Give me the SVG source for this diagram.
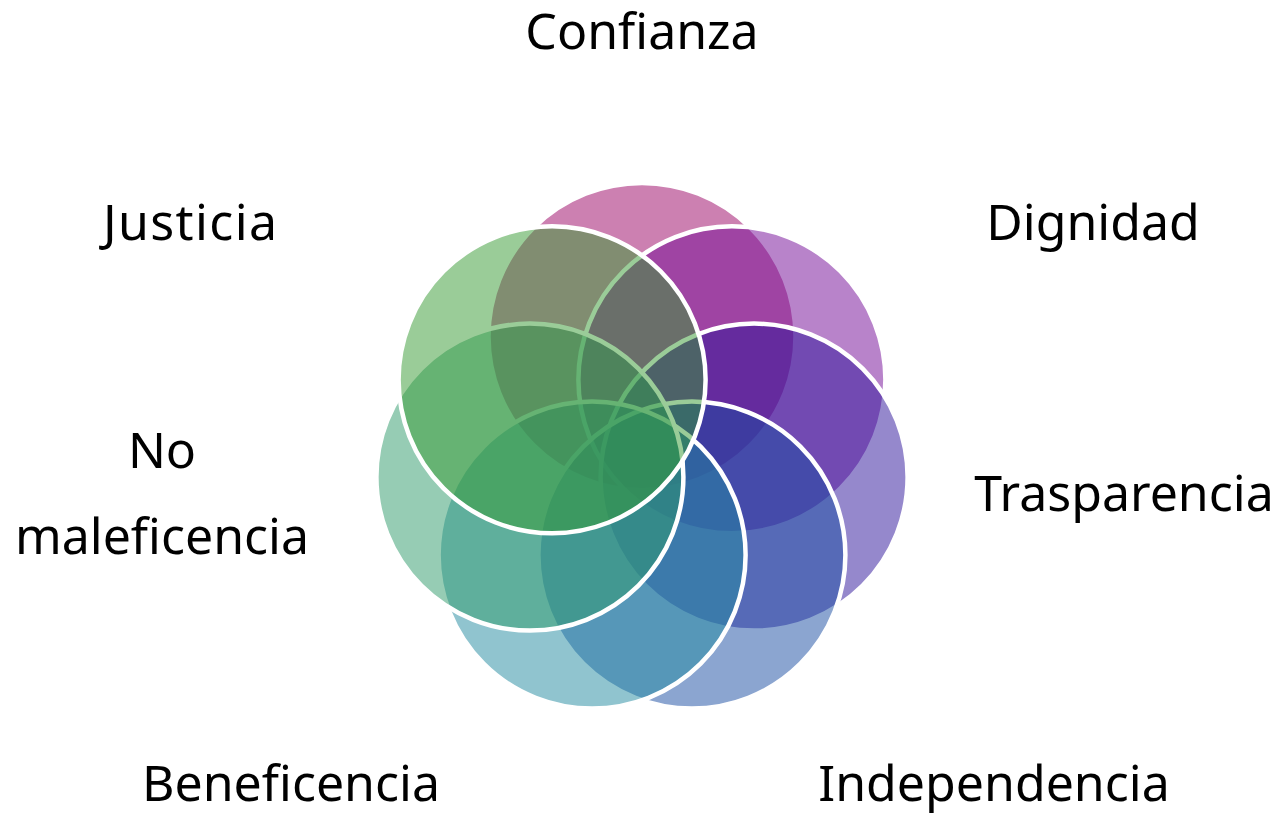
<svg xmlns="http://www.w3.org/2000/svg" width="1283" height="815" viewBox="0 0 1283 815">
<style>
.c{fill-opacity:0.5;stroke:#ffffff;stroke-width:4.5}
.t{font-family:"Noto Sans","Liberation Sans",sans-serif;font-size:50px;fill:#000000;text-anchor:middle}
</style>
<rect width="1283" height="815" fill="#ffffff"/>
<g id="confianza"><circle class="c" cx="642" cy="336.5" r="153.5" fill="#990163"/><text class="t" x="642" y="49">Confianza</text></g>
<g id="dignidad"><circle class="c" cx="731.9" cy="379.8" r="153.5" fill="#710795"/><text class="t" x="1093" y="240">Dignidad</text></g>
<g id="trasparencia"><circle class="c" cx="754.1" cy="477.1" r="153.5" fill="#2B1199"/><text class="t" x="1124" y="511">Trasparencia</text></g>
<g id="independencia"><circle class="c" cx="691.9" cy="555.1" r="153.5" fill="#174BA1"/><text class="t" x="994" y="801">Independencia</text></g>
<g id="beneficencia"><circle class="c" cx="592.1" cy="555.1" r="153.5" fill="#21899F"/><text class="t" x="291" y="801">Beneficencia</text></g>
<g id="nomaleficencia"><circle class="c" cx="529.9" cy="477.1" r="153.5" fill="#2D9969"/><text class="t" x="162" y="468">No</text><text class="t" x="162" y="554">maleficencia</text></g>
<g id="justicia"><circle class="c" cx="552.1" cy="379.8" r="153.5" fill="#359931"/><text class="t" x="190" y="240" textLength="174">Justicia</text></g>
<g id="connectors"></g>
</svg>
